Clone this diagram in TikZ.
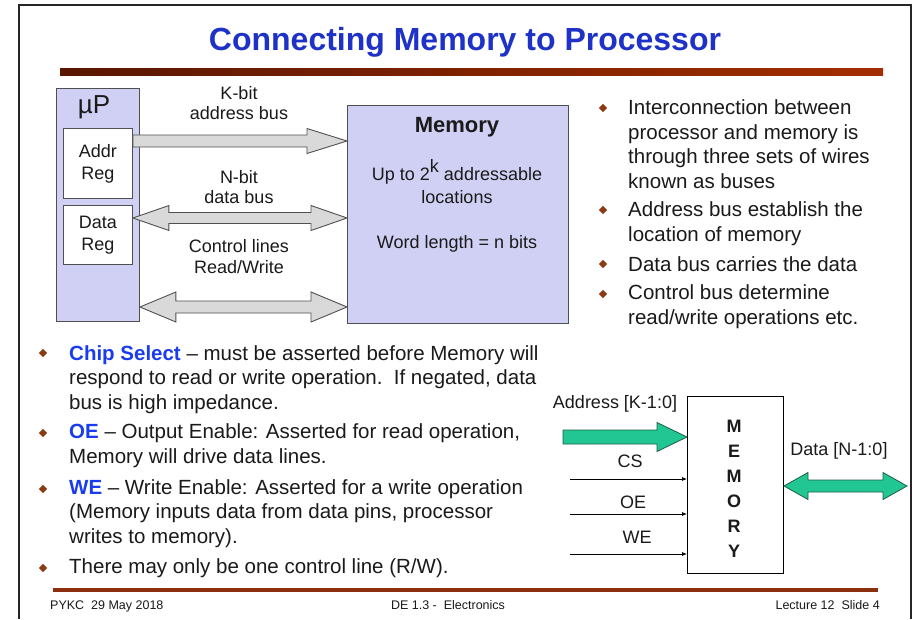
\documentclass[tikz,border=0pt]{standalone}
\usepackage{fontspec}
\setmainfont{Liberation Sans}
\usetikzlibrary{calc,arrows.meta,shapes.geometric}
\definecolor{lav}{HTML}{D0D0F5}
\definecolor{busgray}{HTML}{D9D9D9}
\definecolor{busedge}{HTML}{505050}
\definecolor{grn}{HTML}{22C693}
\definecolor{grnedge}{HTML}{1E5E46}
\definecolor{titleblue}{HTML}{1E32C8}
\definecolor{kwblue}{HTML}{1A3CF0}
\definecolor{bulbrown}{HTML}{8B3A13}
\definecolor{barL}{HTML}{5A1600}
\definecolor{barR}{HTML}{A32E00}
\definecolor{footbar}{HTML}{8C2F0F}
\definecolor{txt}{HTML}{1A1A1A}
\newcommand\sbus[6]{%
  \draw[#1] let \p1=(#2), \p2=(#3) in
  (\x1,\y1+#4) -- (\x2-#6,\y1+#4) -- (\x2-#6,\y1+#5) -- (\x2,\y1)
  -- (\x2-#6,\y1-#5) -- (\x2-#6,\y1-#4) -- (\x1,\y1-#4) -- cycle;}
\newcommand\dbus[6]{%
  \draw[#1] let \p1=(#2), \p2=(#3) in
  (\x1,\y1) -- (\x1+#6,\y1+#5) -- (\x1+#6,\y1+#4) -- (\x2-#6,\y1+#4)
  -- (\x2-#6,\y1+#5) -- (\x2,\y1) -- (\x2-#6,\y1-#5) -- (\x2-#6,\y1-#4)
  -- (\x1+#6,\y1-#4) -- (\x1+#6,\y1-#5) -- cycle;}
\begin{document}
\begin{tikzpicture}[x=1pt,y=-1pt,
  every node/.style={text=txt,inner sep=0pt},
  lavbox/.style={draw=busedge,fill=lav,line width=0.9pt,anchor=north west},
  regbox/.style={draw=busedge,fill=white,line width=0.9pt,anchor=north west,align=center,
    font=\fontsize{18}{22}\selectfont},
  lbl/.style={font=\fontsize{18}{22}\selectfont,anchor=base},
  bustyle/.style={fill=busgray,draw=busedge,line width=0.9pt,line join=miter},
  grnstyle/.style={fill=grn,draw=grnedge,line width=0.8pt,line join=miter},
  ctl/.style={line width=0.7pt,-{Latex[length=5pt,width=4pt]}},
  bul/.style={diamond,fill=bulbrown,minimum size=8.5pt,inner sep=0pt},
  body/.style={font=\fontsize{20.5}{24.4}\selectfont,anchor=base west,align=left},
  foot/.style={font=\fontsize{12.5}{14}\selectfont,anchor=base}]
\useasboundingbox (0,0) rectangle (915,619);
\fill[white] (0,0) rectangle (915,619);
% frame
\draw[line width=1.6pt,draw=black!85] (19,619) -- (19,5) -- (911,5) -- (911,619);
% title
\node[font=\fontsize{32}{38}\selectfont\bfseries,text=titleblue,anchor=base] (title) at (465,50) {Connecting Memory to Processor};
\shade[left color=barL,right color=barR] (60,68) rectangle (883,75);
% top-left diagram
\node[lavbox,minimum width=83,minimum height=233] (up) at (56,88) {};
\node[font=\fontsize{26}{30}\selectfont,anchor=base] (uplbl) at (94,113) {µP};
\node[regbox,minimum width=69,minimum height=70] (addr) at (63,128) {Addr\\Reg};
\node[regbox,minimum width=69,minimum height=59] (datareg) at (63,205) {Data\\Reg};
\node[lavbox,minimum width=221,minimum height=218] (mem) at (347,105) {};
\node[font=\fontsize{22}{26}\selectfont\bfseries,anchor=base] (memT) at (457,132) {Memory};
\node[lbl] (mem1) at (457,180) {Up to 2\raisebox{8pt}{k} addressable};
\node[lbl] (mem2) at (457,203) {locations};
\node[lbl] (mem3) at (457,248) {Word length = n bits};
\coordinate (yA) at (0,141);
\coordinate (yD) at (0,218);
\coordinate (yC) at (0,307);
\sbus{bustyle}{addr.east |- yA}{mem.west |- yA}{6pt}{12.5pt}{40pt}
\dbus{bustyle}{datareg.east |- yD}{mem.west |- yD}{5.5pt}{12.5pt}{36pt}
\dbus{bustyle}{up.east |- yC}{mem.west |- yC}{6pt}{15pt}{36pt}
\node[lbl] (kbit) at (239,99) {K-bit};
\node[lbl] (abus) at (239,119) {address bus};
\node[lbl] (nbit) at (239,183) {N-bit};
\node[lbl] (dbus) at (239,203) {data bus};
\node[lbl] (cl) at (239,252) {Control lines};
\node[lbl] (rw) at (239,273) {Read/Write};
% right bullets (anchor = baseline of last line)
\node[bul] (rb1) at (603,108) {};
\node[body] (rt1) at (628,188) {Interconnection between\\processor and memory is\\through three sets of wires\\known as buses};
\node[bul] (rb2) at (603,210) {};
\node[body] (rt2) at (628,241) {Address bus establish the\\location of memory};
\node[bul] (rb3) at (603,264) {};
\node[body] (rt3) at (628,271) {Data bus carries the data};
\node[bul] (rb4) at (603,294) {};
\node[body] (rt4) at (628,324) {Control bus determine\\read/write operations etc.};
% left bullets
\node[bul] (lb1) at (43,353) {};
\node[body] (lt1) at (69,409) {\textcolor{kwblue}{\bfseries Chip Select} -- must be asserted before Memory will\\respond to read or write operation.\ \ If negated, data\\bus is high impedance.};
\node[bul] (lb2) at (43,433) {};
\node[body] (lt2) at (69,463) {\textcolor{kwblue}{\bfseries OE} -- Output Enable: Asserted for read operation,\\Memory will drive data lines.};
\node[bul] (lb3) at (43,489) {};
\node[body] (lt3) at (69,543) {\textcolor{kwblue}{\bfseries WE} -- Write Enable: Asserted for a write operation\\(Memory inputs data from data pins, processor\\writes to memory).};
\node[bul] (lb4) at (43,568) {};
\node[body] (lt4) at (69,573) {There may only be one control line (R/W).};
% bottom-right diagram
\node[draw=black,fill=white,line width=1pt,anchor=north west,minimum width=96,minimum height=177] (chip) at (687,396) {};
\node[font=\fontsize{18}{25}\selectfont\bfseries,align=center,anchor=base] (chipT) at (734,557) {M\\E\\M\\O\\R\\Y};
\node[lbl] (addrl) at (615,408) {Address [K-1:0]};
\coordinate (ga) at (563,437);
\sbus{grnstyle}{ga}{chip.west |- ga}{7pt}{14.5pt}{30pt}
\coordinate (gd) at (907,486);
\dbus{grnstyle}{chip.east |- gd}{gd}{6pt}{13.5pt}{24pt}
\node[lbl] (datal) at (839,455) {Data [N-1:0]};
\node[lbl] (csl) at (630,467) {CS};
\node[lbl] (oel) at (633,508) {OE};
\node[lbl] (wel) at (637,543) {WE};
\coordinate (cs0) at (570,479);
\coordinate (oe0) at (570,514);
\coordinate (we0) at (570,554);
\draw[ctl] (cs0) -- (chip.west |- cs0);
\draw[ctl] (oe0) -- (chip.west |- oe0);
\draw[ctl] (we0) -- (chip.west |- we0);
% footer
\fill[footbar] (53,588) rectangle (878,592);
\node[foot,anchor=base west] (f1) at (50,609) {PYKC\ \ 29 May 2018};
\node[foot] (f2) at (448,609) {DE 1.3 -\ \ Electronics};
\node[foot,anchor=base east] (f3) at (880,609) {Lecture 12\ \ Slide 4};
\end{tikzpicture}
\end{document}
